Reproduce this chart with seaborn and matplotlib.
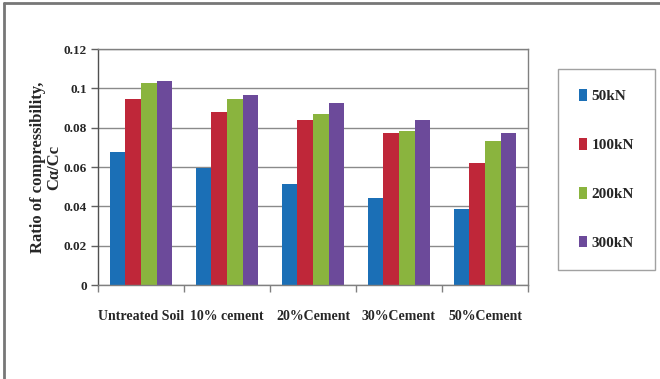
import matplotlib
matplotlib.use("Agg")
import matplotlib.pyplot as plt
from matplotlib.lines import Line2D
import seaborn as sns
import pandas as pd
import numpy as np

categories = ["Untreated Soil", "10% cement", "20%Cement", "30%Cement", "50%Cement"]
loads = ["50kN", "100kN", "200kN", "300kN"]
ratio_50kN = [0.0676, 0.0596, 0.0514, 0.0443, 0.0387]
ratio_100kN = [0.0948, 0.0880, 0.0837, 0.0773, 0.0620]
ratio_200kN = [0.1025, 0.0948, 0.0869, 0.0784, 0.0730]
ratio_300kN = [0.1038, 0.0967, 0.0923, 0.0838, 0.0773]
y_ticks = [0, 0.02, 0.04, 0.06, 0.08, 0.1, 0.12]
y_tick_labels = ["0", "0.02", "0.04", "0.06", "0.08", "0.1", "0.12"]

colors = ["#1B6FB6", "#BF2739", "#8AB43E", "#6C4A9A"]

series = [ratio_50kN, ratio_100kN, ratio_200kN, ratio_300kN]
df = pd.DataFrame(
    [(c, ld, v) for ld, vals in zip(loads, series) for c, v in zip(categories, vals)],
    columns=["Mix", "Load", "Ratio"],
)

sns.set_theme(style="white")
plt.rcParams["font.family"] = ["Liberation Serif", "DejaVu Serif"]
plt.rcParams["font.weight"] = "bold"

fig = plt.figure(figsize=(6.6, 3.79), dpi=100)
ax = fig.add_axes([98 / 660, 1 - 285 / 379, (528 - 98) / 660, (285 - 49) / 379])

sns.barplot(
    data=df, x="Mix", y="Ratio", hue="Load", order=categories, hue_order=loads,
    palette=colors, saturation=1, width=0.73, gap=0, ax=ax, legend=True,
    linewidth=0, errorbar=None,
)

ax.set_ylim(0, 0.12)
ax.set_xlim(-0.5, len(categories) - 0.5)
ax.set_yticks(y_ticks)
ax.set_yticklabels(y_tick_labels, fontsize=9.5, fontweight="bold")
ax.yaxis.grid(True, color="#8a8a8a", linewidth=1)
ax.set_axisbelow(True)
ax.tick_params(axis="y", direction="out", length=5, width=1, color="#606060", left=True, pad=3)
ax.set_xticks(range(len(categories)))
ax.set_xticklabels(categories, fontsize=10, fontweight="bold")
ax.set_xticks(np.arange(-0.5, len(categories)), minor=True)
ax.tick_params(axis="x", which="major", length=0, pad=18)
ax.tick_params(axis="x", which="minor", direction="out", length=5, width=1,
               color="#808080", bottom=True)
ax.set_xlabel("")
ax.set_ylabel("Ratio of compressibility,\nCα/Cc", fontsize=12, fontweight="bold",
              labelpad=1, linespacing=1.05)

for side in ["left", "bottom", "right", "top"]:
    ax.spines[side].set_visible(True)
    ax.spines[side].set_color("#808080")
    ax.spines[side].set_linewidth(1)
ax.spines["left"].set_color("#505050")

handles, labels = ax.get_legend_handles_labels()
ax.legend_.remove()
leg = fig.legend(
    handles, labels, loc="center", bbox_to_anchor=(606.5 / 660, 1 - 169.5 / 379),
    frameon=True, fancybox=False, edgecolor="#8a8a8a",
    prop={"weight": "bold", "size": 11}, labelspacing=2.27, borderpad=1.35,
    handlelength=0.55, handleheight=0.8, handletextpad=0.3, borderaxespad=0,
)
leg.get_frame().set_linewidth(1)

# outer frame lines along the left and top of the figure
fig.add_artist(Line2D([4 / 660, 4 / 660], [0, 1 - 3 / 379], color="#777777", linewidth=2,
                      transform=fig.transFigure))
fig.add_artist(Line2D([4 / 660, 1], [1 - 3 / 379, 1 - 3 / 379], color="#777777", linewidth=2,
                      transform=fig.transFigure))

fig.savefig("out.png", dpi=100)
